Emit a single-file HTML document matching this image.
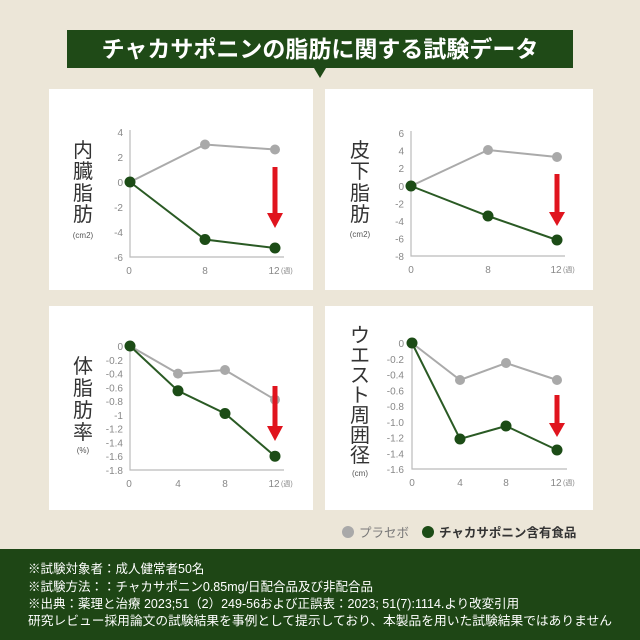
<!DOCTYPE html>
<html><head><meta charset="utf-8"><style>
html,body{margin:0;padding:0;width:640px;height:640px;overflow:hidden;background:#ece6d8}
svg{display:block}
text{font-family:"Liberation Sans","Noto Sans CJK JP",sans-serif}
.t{font-size:10px;fill:#888;text-anchor:end}
.x{font-size:10px;fill:#888;text-anchor:middle}
.w{font-size:7px;fill:#888}
.lab{font-size:20px;fill:#333;text-anchor:middle}
.u{font-size:8px;fill:#555;text-anchor:middle}
.ax{stroke:#bbb;stroke-width:1.2;fill:none}
.g{stroke:#aaa;stroke-width:2;fill:none}
.k{stroke:#2a5a24;stroke-width:2;fill:none}
.gp{fill:#a9a9a9}.kp{fill:#1c4c16}
.f{font-size:12.5px;fill:#fff}
</style></head><body>
<svg width="640" height="640" viewBox="0 0 640 640">
<rect width="640" height="640" fill="#ece6d8"/>
<rect x="67" y="30" width="506" height="38" fill="#1f4a17"/>
<polygon points="314,68 326,68 320,78" fill="#1f4a17"/>
<text x="320" y="57" font-size="23" fill="#fff" text-anchor="middle" font-weight="bold">チャカサポニンの脂肪に関する試験データ</text>
<rect x="49" y="89" width="264" height="201" fill="#fff"/>
<rect x="325" y="89" width="268" height="201" fill="#fff"/>
<rect x="49" y="306" width="264" height="204" fill="#fff"/>
<rect x="325" y="306" width="268" height="204" fill="#fff"/>

<g>
<text class="lab" x="83" y="157">内</text><text class="lab" x="83" y="178">臓</text><text class="lab" x="83" y="200">脂</text><text class="lab" x="83" y="221">肪</text>
<text class="u" x="83" y="238">(cm2)</text>
<polyline class="ax" points="130,130 130,257 284,257"/>
<text class="t" x="123" y="136">4</text><text class="t" x="123" y="161">2</text><text class="t" x="123" y="186">0</text><text class="t" x="123" y="211">-2</text><text class="t" x="123" y="236">-4</text><text class="t" x="123" y="261">-6</text>
<text class="x" x="129" y="274">0</text><text class="x" x="205" y="274">8</text><text class="x" x="274" y="274">12</text><text class="w" x="281" y="273">(週)</text>
<polyline class="g" points="130,182 205,144.5 275,149.5"/>
<polyline class="k" points="130,182 205,239.5 275,248"/>
<circle class="gp" cx="205" cy="144.5" r="5"/><circle class="gp" cx="275" cy="149.5" r="5"/>
<circle class="kp" cx="130" cy="182" r="5.5"/><circle class="kp" cx="205" cy="239.5" r="5.5"/><circle class="kp" cx="275" cy="248" r="5.5"/>
<rect x="272.5" y="167" width="5" height="48" fill="#e0141e"/><polygon points="267,213 283,213 275,228" fill="#e0141e"/>
</g>

<g>
<text class="lab" x="360" y="157">皮</text><text class="lab" x="360" y="178">下</text><text class="lab" x="360" y="200">脂</text><text class="lab" x="360" y="221">肪</text>
<text class="u" x="360" y="237">(cm2)</text>
<polyline class="ax" points="411,131 411,256 565,256"/>
<text class="t" x="404" y="137">6</text><text class="t" x="404" y="154.6">4</text><text class="t" x="404" y="172.2">2</text><text class="t" x="404" y="189.8">0</text><text class="t" x="404" y="207.4">-2</text><text class="t" x="404" y="225">-4</text><text class="t" x="404" y="242.6">-6</text><text class="t" x="404" y="260.2">-8</text>
<text class="x" x="411" y="273">0</text><text class="x" x="488" y="273">8</text><text class="x" x="556" y="273">12</text><text class="w" x="563" y="272">(週)</text>
<polyline class="g" points="411,186 488,150 557,157"/>
<polyline class="k" points="411,186 488,216 557,240"/>
<circle class="gp" cx="488" cy="150" r="5"/><circle class="gp" cx="557" cy="157" r="5"/>
<circle class="kp" cx="411" cy="186" r="5.5"/><circle class="kp" cx="488" cy="216" r="5.5"/><circle class="kp" cx="557" cy="240" r="5.5"/>
<rect x="554.5" y="174" width="5" height="40" fill="#e0141e"/><polygon points="549,212 565,212 557,226" fill="#e0141e"/>
</g>

<g>
<text class="lab" x="83" y="373">体</text><text class="lab" x="83" y="395">脂</text><text class="lab" x="83" y="417">肪</text><text class="lab" x="83" y="439">率</text>
<text class="u" x="83" y="453">(%)</text>
<polyline class="ax" points="130,344 130,470 284,470"/>
<text class="t" x="123" y="350">0</text><text class="t" x="123" y="363.8">-0.2</text><text class="t" x="123" y="377.6">-0.4</text><text class="t" x="123" y="391.3">-0.6</text><text class="t" x="123" y="405.1">-0.8</text><text class="t" x="123" y="418.9">-1</text><text class="t" x="123" y="432.7">-1.2</text><text class="t" x="123" y="446.4">-1.4</text><text class="t" x="123" y="460.2">-1.6</text><text class="t" x="123" y="474">-1.8</text>
<text class="x" x="129" y="487">0</text><text class="x" x="178" y="487">4</text><text class="x" x="225" y="487">8</text><text class="x" x="274" y="487">12</text><text class="w" x="281" y="486">(週)</text>
<polyline class="g" points="130,346 178,373.6 225,370 275,399.7"/>
<polyline class="k" points="130,346 178,390.8 225,413.5 275,456.2"/>
<circle class="gp" cx="178" cy="373.6" r="5"/><circle class="gp" cx="225" cy="370" r="5"/><circle class="gp" cx="275" cy="399.7" r="5"/>
<circle class="kp" cx="130" cy="346" r="5.5"/><circle class="kp" cx="178" cy="390.8" r="5.5"/><circle class="kp" cx="225" cy="413.5" r="5.5"/><circle class="kp" cx="275" cy="456.2" r="5.5"/>
<rect x="272.5" y="386" width="5" height="42" fill="#e0141e"/><polygon points="267,426 283,426 275,441" fill="#e0141e"/>
</g>

<g>
<text class="lab" x="360" y="342">ウ</text><text class="lab" x="360" y="362">エ</text><text class="lab" x="360" y="382">ス</text><text class="lab" x="360" y="402">ト</text><text class="lab" x="360" y="422">周</text><text class="lab" x="360" y="442">囲</text><text class="lab" x="360" y="462">径</text>
<text class="u" x="360" y="476">(cm)</text>
<polyline class="ax" points="412,341 412,469 567,469"/>
<text class="t" x="404" y="347">0</text><text class="t" x="404" y="362.75">-0.2</text><text class="t" x="404" y="378.5">-0.4</text><text class="t" x="404" y="394.25">-0.6</text><text class="t" x="404" y="410">-0.8</text><text class="t" x="404" y="425.75">-1.0</text><text class="t" x="404" y="441.5">-1.2</text><text class="t" x="404" y="457.25">-1.4</text><text class="t" x="404" y="473">-1.6</text>
<text class="x" x="412" y="486">0</text><text class="x" x="460" y="486">4</text><text class="x" x="506" y="486">8</text><text class="x" x="556" y="486">12</text><text class="w" x="563" y="485">(週)</text>
<polyline class="g" points="412,343 460,380 506,363 557,380"/>
<polyline class="k" points="412,343 460,439 506,426 557,450"/>
<circle class="gp" cx="460" cy="380" r="5"/><circle class="gp" cx="506" cy="363" r="5"/><circle class="gp" cx="557" cy="380" r="5"/>
<circle class="kp" cx="412" cy="343" r="5.5"/><circle class="kp" cx="460" cy="439" r="5.5"/><circle class="kp" cx="506" cy="426" r="5.5"/><circle class="kp" cx="557" cy="450" r="5.5"/>
<rect x="554.5" y="395" width="5" height="30" fill="#e0141e"/><polygon points="549,423 565,423 557,437" fill="#e0141e"/>
</g>

<circle cx="348" cy="532" r="6" fill="#a9a9a9"/>
<text x="359" y="537" font-size="12.5" fill="#777">プラセボ</text>
<circle cx="428" cy="532" r="6" fill="#1c4c16"/>
<text x="439" y="537" font-size="12.5" fill="#333" font-weight="bold">チャカサポニン含有食品</text>

<rect x="0" y="549" width="640" height="91" fill="#1e4615"/>
<text class="f" x="28" y="573">※試験対象者：成人健常者50名</text>
<text class="f" x="28" y="591">※試験方法：：チャカサポニン0.85mg/日配合品及び非配合品</text>
<text class="f" x="28" y="608">※出典：薬理と治療 2023;51（2）249-56および正誤表：2023; 51(7):1114.より改変引用</text>
<text class="f" x="28" y="625" textLength="584" lengthAdjust="spacingAndGlyphs">研究レビュー採用論文の試験結果を事例として提示しており、本製品を用いた試験結果ではありません</text>
</svg>
</body></html>
